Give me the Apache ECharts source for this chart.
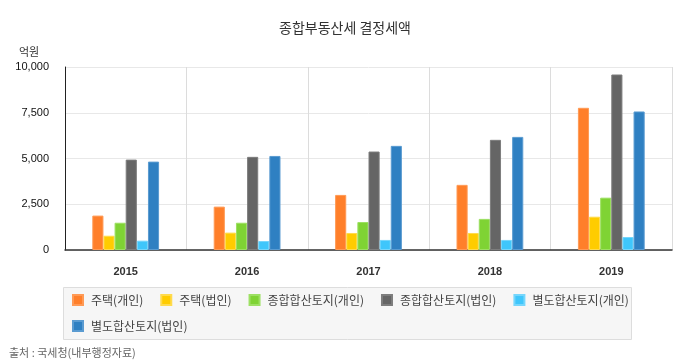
<!DOCTYPE html>
<html><head><meta charset="utf-8">
<script src="https://cdn.jsdelivr.net/npm/echarts@6/dist/echarts.min.js"></script>
<style>html,body{margin:0;padding:0;background:#fff}#c{width:690px;height:360px}</style>
</head><body><div id="c"></div>
<script>
const categories = ['2015','2016','2017','2018','2019'];
const seriesNames = ['주택(개인)','주택(법인)','종합합산토지(개인)','종합합산토지(법인)','별도합산토지(개인)','별도합산토지(법인)'];
const housePersonal = [1880, 2370, 3010, 3560, 7770];
const houseCorp = [780, 950, 930, 930, 1820];
const compPersonal = [1490, 1490, 1530, 1700, 2860];
const compCorp = [4940, 5090, 5380, 6020, 9590];
const sepPersonal = [510, 490, 550, 550, 710];
const sepCorp = [4830, 5140, 5690, 6180, 7570];
const yTicks = [0, 2500, 5000, 7500, 10000];
const colors = ['#ff7f2a','#ffcc00','#7fd334','#656565','#3fc6fb','#2f80c2'];
const borders = ['#ff9a55','#ffdb4d','#9de063','#7d7d7d','#75d6fc','#5a9bd1'];
const values = [housePersonal, houseCorp, compPersonal, compCorp, sepPersonal, sepCorp];
const font = '"Noto Sans CJK KR", "Noto Sans", sans-serif';
const latin = '"Liberation Sans", Arial, sans-serif';
const legendText = {fontSize: 12, color: '#444', fontFamily: font, padding: [0,0,0,3]};
const chart = echarts.init(document.getElementById('c'));
chart.setOption({
  animation: false,
  textStyle: {fontFamily: font},
  title: [
    {text: '종합부동산세 결정세액', left: 'center', top: 16, textStyle: {fontSize: 14, fontWeight: 'normal', color: '#333', fontFamily: font}},
    {text: '억원', left: 14, top: 41, textStyle: {fontSize: 11, fontWeight: 'normal', color: '#333', fontFamily: font}},
    {text: '출처 : 국세청(내부행정자료)', left: 4, top: 342, textStyle: {fontSize: 11, fontWeight: 'normal', color: '#666', fontFamily: font}}
  ],
  graphic: [{
    type: 'rect', left: 63, top: 287, z: 0,
    shape: {width: 568, height: 52},
    style: {fill: '#f6f6f6', stroke: '#dddddd', lineWidth: 1}
  }],
  grid: {left: 65, right: 18, top: 67, bottom: 110},
  legend: [
    {left: 72, top: 294, padding: 0, itemWidth: 10, itemHeight: 10, itemGap: 17, icon: 'rect',
      textStyle: legendText, data: seriesNames.slice(0, 5), z: 5},
    {left: 72, top: 320, padding: 0, itemWidth: 10, itemHeight: 10, itemGap: 17, icon: 'rect',
      textStyle: legendText, data: seriesNames.slice(5), z: 5}
  ],
  xAxis: {
    type: 'category', data: categories,
    axisLine: {lineStyle: {color: '#333', width: 1.5}},
    axisTick: {show: false},
    splitLine: {show: true, lineStyle: {color: '#dcdcdc'}},
    axisLabel: {fontSize: 11, fontWeight: 'bold', color: '#333', margin: 16, fontFamily: latin}
  },
  yAxis: {
    type: 'value', min: 0, max: 10000, interval: 2500,
    axisLine: {show: true, lineStyle: {color: '#222'}},
    axisTick: {show: false},
    splitLine: {lineStyle: {color: '#e8e8e8'}},
    axisLabel: {fontSize: 11, color: '#111', margin: 16, fontFamily: latin,
      formatter: v => yTicks.includes(v) ? v.toLocaleString('en-US') : ''}
  },
  series: seriesNames.map((n, i) => ({
    name: n, type: 'bar', data: values[i],
    barGap: 0, barCategoryGap: '45%',
    itemStyle: {color: colors[i], borderColor: borders[i], borderWidth: 1}
  }))
});
</script></body></html>
